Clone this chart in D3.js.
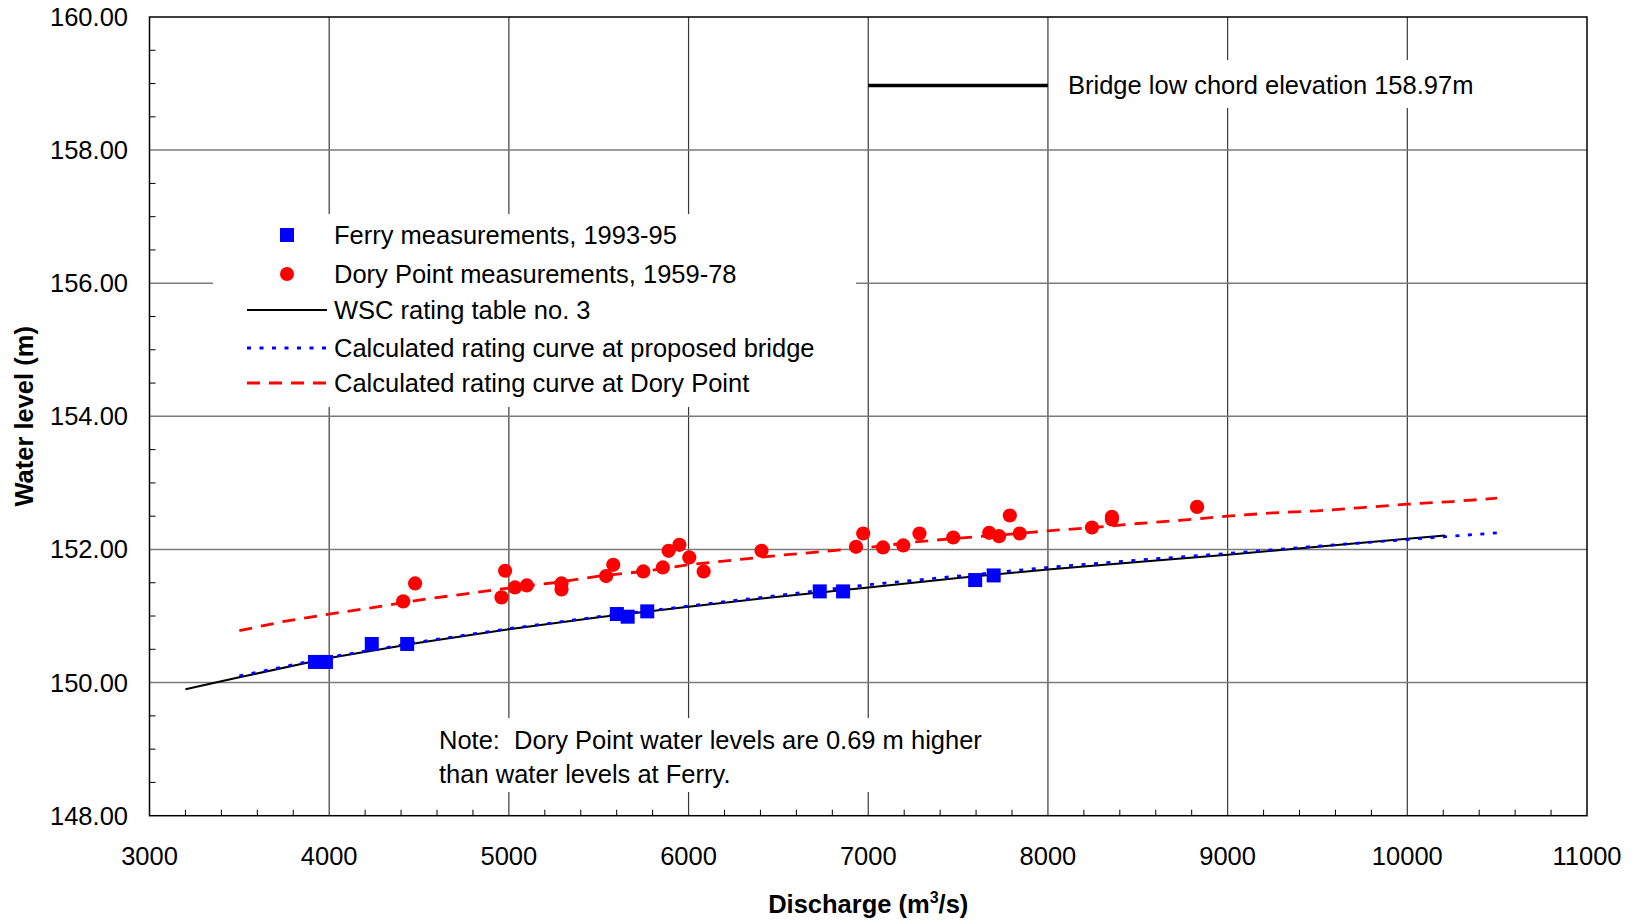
<!DOCTYPE html>
<html>
<head>
<meta charset="utf-8">
<script src="https://cdn.jsdelivr.net/npm/d3@7"></script>
<style>
  html, body { margin: 0; padding: 0; background: #fff; }
  svg { display: block; font-family: "Liberation Sans", Arial, sans-serif; }
  text { white-space: pre; }
</style>
</head>
<body>
<svg id="chart" width="1639" height="921"></svg>
<script>
// ---------------- data ----------------
const xTickLabels = [3000, 4000, 5000, 6000, 7000, 8000, 9000, 10000, 11000];
const yTickLabels = [148, 150, 152, 154, 156, 158, 160];

// Ferry measurements, 1993-95 [discharge, level]
const ferryQ = [3921, 3982, 4237, 4434, 5601, 5661, 5770, 6730, 6860, 7595, 7698];
const ferryH = [150.31, 150.31, 150.58, 150.58, 151.03, 150.99, 151.07, 151.37, 151.37, 151.54, 151.61];

// Dory Point measurements, 1959-78
const doryQ = [4412, 4478, 4959, 4979, 5034, 5100, 5293, 5293, 5541, 5581, 5748, 5857, 5889, 5949, 6004,
               6084, 6406, 6932, 6972, 7082, 7195, 7285, 7473, 7673, 7728, 7788, 7843, 8245, 8356, 8356, 8830];
const doryH = [151.22, 151.49, 151.28, 151.68, 151.43, 151.46, 151.49, 151.40, 151.60, 151.77, 151.67, 151.73, 151.98, 152.07, 151.88,
               151.67, 151.98, 152.04, 152.24, 152.03, 152.06, 152.24, 152.18, 152.25, 152.20, 152.51, 152.24, 152.33, 152.49, 152.45, 152.64];

// WSC rating table no. 3
const wscQ = [3200, 3500, 4000, 4500, 5000, 5500, 6000, 6500, 7000, 7500, 8000, 8500, 9000, 9500, 10000, 10210];
const wscH = [149.90, 150.08, 150.37, 150.60, 150.80, 150.98, 151.14, 151.29, 151.43, 151.57, 151.70, 151.81, 151.92, 152.04, 152.16, 152.21];

// Calculated rating curve at proposed bridge
const bridgeQ = [3500, 4000, 4500, 5000, 5500, 6000, 6500, 7000, 7500, 8000, 8500, 9000, 9500, 10000, 10200, 10500];
const bridgeH = [150.10, 150.38, 150.61, 150.81, 150.99, 151.15, 151.31, 151.47, 151.60, 151.73, 151.84, 151.94, 152.05, 152.15, 152.19, 152.25];

// Calculated rating curve at Dory Point
const doryCurveQ = [3500, 3750, 4000, 4250, 4500, 4750, 5000, 5250, 5500, 5750, 6000, 6250, 6500, 6750, 7000,
                    7250, 7500, 7750, 8000, 8250, 8500, 8750, 9000, 9250, 9500, 9750, 10000, 10250, 10500];
const doryCurveH = [150.78, 150.92, 151.03, 151.13, 151.24, 151.33, 151.42, 151.50, 151.60, 151.67, 151.77, 151.84, 151.91, 151.97, 152.03,
                    152.11, 152.17, 152.22, 152.28, 152.33, 152.39, 152.44, 152.50, 152.55, 152.58, 152.63, 152.68, 152.72, 152.77];

// Bridge low chord
const lowChordQ = [7000, 8000];
const lowChordH = 158.97;

const legendLabels = [
  "Ferry measurements, 1993-95",
  "Dory Point measurements, 1959-78",
  "WSC rating table no. 3",
  "Calculated rating curve at proposed bridge",
  "Calculated rating curve at Dory Point"
];
const noteLines = ["Note:  Dory Point water levels are 0.69 m higher", "than water levels at Ferry."];
const bridgeLabel = "Bridge low chord elevation 158.97m";

// ---------------- layout ----------------
const L = 149.5, R = 1587, T = 17, B = 815.7;
const FS = 25.5;
const svg = d3.select("#chart");
const x = d3.scaleLinear().domain([3000, 11000]).range([L, R]);
const y = d3.scaleLinear().domain([148, 160]).range([B, T]);
const zip = (a, b) => a.map((v, i) => [v, Array.isArray(b) ? b[i] : b]);

svg.append("rect").attr("width", 1639).attr("height", 921).attr("fill", "#fff");

// grid
const grid = svg.append("g");
grid.selectAll(".vg").data(xTickLabels.slice(1, -1)).enter().append("line")
  .attr("x1", d => x(d)).attr("x2", d => x(d)).attr("y1", T).attr("y2", B)
  .attr("stroke", "#3a3a3a").attr("stroke-width", 1.2);
grid.selectAll(".hg").data(yTickLabels.slice(1, -1)).enter().append("line")
  .attr("y1", d => y(d)).attr("y2", d => y(d)).attr("x1", L).attr("x2", R)
  .attr("stroke", "#7a7a7a").attr("stroke-width", 1.5);

// white boxes over grid
svg.append("rect").attr("x", 213).attr("y", 214).attr("width", 643).attr("height", 193).attr("fill", "#fff");
svg.append("rect").attr("x", 430).attr("y", 718).attr("width", 570).attr("height", 74).attr("fill", "#fff");
svg.append("rect").attr("x", 1056).attr("y", 60).attr("width", 425).attr("height", 48).attr("fill", "#fff");

// minor ticks
const minorX = d3.range(3200, 11000, 200).filter(v => v % 1000 !== 0);
svg.selectAll(".mx").data(minorX).enter().append("line")
  .attr("x1", d => x(d)).attr("x2", d => x(d)).attr("y1", B).attr("y2", B - 6)
  .attr("stroke", "#000").attr("stroke-width", 1);
const minorY = d3.range(148.5, 160, 0.5).filter(v => v % 2 !== 0);
svg.selectAll(".my").data(minorY).enter().append("line")
  .attr("y1", d => y(d)).attr("y2", d => y(d)).attr("x1", L).attr("x2", L + 6)
  .attr("stroke", "#000").attr("stroke-width", 1);

// frame
svg.append("rect").attr("x", L).attr("y", T).attr("width", R - L).attr("height", B - T)
  .attr("fill", "none").attr("stroke", "#000").attr("stroke-width", 1.5);

// tick labels
svg.selectAll(".xl").data(xTickLabels).enter().append("text")
  .attr("x", d => x(d)).attr("y", 865).attr("text-anchor", "middle")
  .attr("font-size", FS).attr("fill", "#000").text(d => d);
svg.selectAll(".yl").data(yTickLabels).enter().append("text")
  .attr("x", 128).attr("y", d => y(d) + 9).attr("text-anchor", "end")
  .attr("font-size", FS).attr("fill", "#000").text(d => d.toFixed(2));

// axis titles
const xt = svg.append("text").attr("x", (L + R) / 2).attr("y", 913).attr("text-anchor", "middle")
  .attr("font-size", FS).attr("font-weight", "bold");
xt.append("tspan").text("Discharge (m");
xt.append("tspan").attr("dy", -10).attr("font-size", 16).text("3");
xt.append("tspan").attr("dy", 10).text("/s)");
svg.append("text").attr("transform", `translate(33,${(T + B) / 2}) rotate(-90)`)
  .attr("text-anchor", "middle").attr("font-size", FS).attr("font-weight", "bold").text("Water level (m)");

// lines
const line = d3.line().x(d => x(d[0])).y(d => y(d[1]));
svg.append("path").datum(zip(doryCurveQ, doryCurveH)).attr("d", line)
  .attr("fill", "none").attr("stroke", "#ff0000").attr("stroke-width", 2.8).attr("stroke-dasharray", "13,9");
svg.append("path").datum(zip(wscQ, wscH)).attr("d", line)
  .attr("fill", "none").attr("stroke", "#000").attr("stroke-width", 2);
svg.append("path").datum(zip(bridgeQ, bridgeH)).attr("d", line)
  .attr("fill", "none").attr("stroke", "#0000ff").attr("stroke-width", 2.8).attr("stroke-dasharray", "4,8.5");
svg.append("path").datum(zip(lowChordQ, lowChordH)).attr("d", line)
  .attr("fill", "none").attr("stroke", "#000").attr("stroke-width", 3.5);

// markers
svg.selectAll(".dory").data(zip(doryQ, doryH)).enter().append("circle")
  .attr("cx", d => x(d[0])).attr("cy", d => y(d[1])).attr("r", 7.1).attr("fill", "#ff0000");
svg.selectAll(".ferry").data(zip(ferryQ, ferryH)).enter().append("rect")
  .attr("x", d => x(d[0]) - 7).attr("y", d => y(d[1]) - 7).attr("width", 14).attr("height", 14).attr("fill", "#0000ff");

// legend
const lg = svg.append("g");
const rows = [235, 274, 310, 348, 383];
lg.append("rect").attr("x", 280).attr("y", rows[0] - 7).attr("width", 14).attr("height", 14).attr("fill", "#0000ff");
lg.append("circle").attr("cx", 287).attr("cy", rows[1]).attr("r", 7).attr("fill", "#ff0000");
lg.append("line").attr("x1", 247).attr("x2", 327).attr("y1", rows[2]).attr("y2", rows[2]).attr("stroke", "#000").attr("stroke-width", 2);
lg.append("line").attr("x1", 247).attr("x2", 327).attr("y1", rows[3]).attr("y2", rows[3]).attr("stroke", "#0000ff").attr("stroke-width", 2.8).attr("stroke-dasharray", "4,8.5");
lg.append("line").attr("x1", 247).attr("x2", 327).attr("y1", rows[4]).attr("y2", rows[4]).attr("stroke", "#ff0000").attr("stroke-width", 2.8).attr("stroke-dasharray", "13,9");
lg.selectAll(".lt").data(legendLabels).enter().append("text")
  .attr("x", 334).attr("y", (d, i) => rows[i] + 9).attr("font-size", FS).text(d => d);

// annotations
svg.selectAll(".note").data(noteLines).enter().append("text")
  .attr("x", 439).attr("y", (d, i) => 749 + i * 33.5).attr("font-size", FS)
  .attr("xml:space", "preserve").text(d => d);
svg.append("text").attr("x", 1068).attr("y", 94).attr("font-size", FS).text(bridgeLabel);
</script>
</body>
</html>
